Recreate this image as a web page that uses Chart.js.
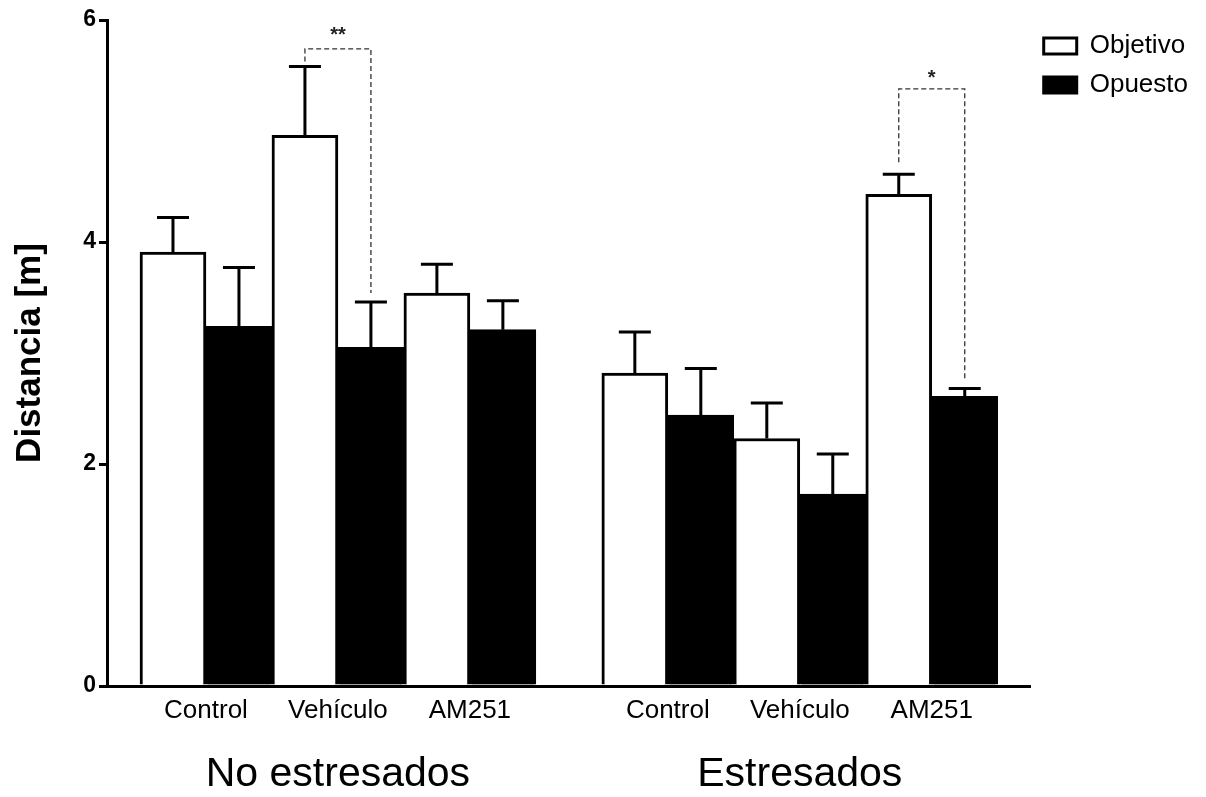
<!DOCTYPE html>
<html>
<head>
<meta charset="utf-8">
<script src="https://cdn.jsdelivr.net/npm/chart.js@4.4.1/dist/chart.umd.min.js"></script>
<style>
  html, body { margin: 0; padding: 0; background: #fff; }
  #wrap { width: 1206px; height: 797px; }
</style>
</head>
<body>
<div id="wrap"><canvas id="c" width="1206" height="797"></canvas></div>
<script>
// ---- data ----
const categories = ['Control', 'Vehículo', 'AM251'];
const groups = ['No estresados', 'Estresados'];
const seriesNames = ['Objetivo', 'Opuesto'];
const objetivo    = [3.91, 4.96, 3.54, 2.82, 2.23, 4.43];
const objetivoErr = [0.31, 0.62, 0.26, 0.37, 0.32, 0.18];
const opuesto     = [3.24, 3.05, 3.21, 2.44, 1.73, 2.61];
const opuestoErr  = [0.53, 0.41, 0.26, 0.42, 0.36, 0.07];
const yTicks = [0, 2, 4, 6];
const sigPairs = [1, 5];
const sigLabels = ['**', '*'];

// ---- layout helpers (bar slot units) ----
const FONT = "'Liberation Sans', Arial, Helvetica, sans-serif";
const SLOTS_PER_GROUP = 7;          // 6 bars + 1 gap slot
const X_MAX = groups.length * SLOTS_PER_GROUP;
const pairCenters = [];
const xLabels = [];
groups.forEach((g, gi) => categories.forEach((c, ci) => {
  pairCenters.push(gi * SLOTS_PER_GROUP + ci * 2 + 1.5);
  xLabels.push(c);
}));
const groupCenters = groups.map((g, gi) => gi * SLOTS_PER_GROUP + 3.5);

const errorBars = {
  id: 'errorBars',
  afterDatasetsDraw(chart) {
    const ctx = chart.ctx;
    const ys = chart.scales.y;
    const errs = [objetivoErr, opuestoErr];
    ctx.save();
    ctx.strokeStyle = '#000';
    ctx.lineWidth = 3;
    chart.data.datasets.forEach((ds, di) => {
      const meta = chart.getDatasetMeta(di);
      meta.data.forEach((el, i) => {
        const v = ds.data[i].y;
        const top = ys.getPixelForValue(v + errs[di][i]);
        ctx.beginPath();
        ctx.moveTo(el.x, el.y);
        ctx.lineTo(el.x, top);
        ctx.moveTo(el.x - 16, top);
        ctx.lineTo(el.x + 16, top);
        ctx.stroke();
      });
    });
    ctx.restore();
  }
};

const brackets = {
  id: 'brackets',
  afterDatasetsDraw(chart, args, opts) {
    const ctx = chart.ctx;
    const ys = chart.scales.y;
    const m0 = chart.getDatasetMeta(0), m1 = chart.getDatasetMeta(1);
    ctx.save();
    opts.items.forEach((it, k) => {
      const p = sigPairs[k];
      const a = m0.data[p], b = m1.data[p];
      const yBr = ys.getPixelForValue(it.level);
      const yL = ys.getPixelForValue(objetivo[p] + objetivoErr[p]) - it.gapL;
      const yR = ys.getPixelForValue(opuesto[p] + opuestoErr[p]) - it.gapR;
      ctx.strokeStyle = '#333';
      ctx.lineWidth = 1.3;
      ctx.setLineDash([5, 3]);
      ctx.beginPath();
      ctx.moveTo(a.x, yL);
      ctx.lineTo(a.x, yBr);
      ctx.lineTo(b.x, yBr);
      ctx.lineTo(b.x, yR);
      ctx.stroke();
      ctx.setLineDash([]);
      ctx.fillStyle = '#222';
      ctx.font = 'bold 20px ' + FONT;
      ctx.textAlign = 'center';
      ctx.textBaseline = 'alphabetic';
      ctx.fillText(sigLabels[k], (a.x + b.x) / 2, yBr - it.textGap);
    });
    ctx.restore();
  }
};

new Chart(document.getElementById('c'), {
  type: 'bar',
  data: {
    datasets: [
      {
        label: seriesNames[0],
        data: objetivo.map((v, i) => ({ x: pairCenters[i], y: v })),
        backgroundColor: '#fff',
        borderColor: '#000',
        borderWidth: 3
      },
      {
        label: seriesNames[1],
        data: opuesto.map((v, i) => ({ x: pairCenters[i], y: v })),
        backgroundColor: '#000',
        borderColor: '#000',
        borderWidth: 3
      }
    ]
  },
  options: {
    responsive: false,
    devicePixelRatio: 1,
    animation: false,
    grouped: true,
    categoryPercentage: 1,
    barPercentage: 1,
    layout: { padding: { top: 20, right: 8, bottom: 4, left: 0 } },
    plugins: {
      tooltip: { enabled: false },
      legend: {
        position: 'right',
        align: 'start',
        labels: {
          boxWidth: 33,
          boxHeight: 16,
          padding: 13,
          color: '#000',
          font: { family: FONT, size: 26 }
        }
      },
      brackets: {
        items: [
          { level: 5.74, gapL: 5, gapR: 9, textGap: 8 },
          { level: 5.38, gapL: 12, gapR: 8, textGap: 5 }
        ]
      }
    },
    scales: {
      x: {
        type: 'linear',
        min: 0,
        max: X_MAX,
        offset: false,
        weight: 0,
        grid: { display: false, drawTicks: false },
        border: { display: true, width: 3, color: '#000' },
        afterBuildTicks: s => { s.ticks = pairCenters.map(v => ({ value: v })); },
        afterFit: s => { s.height = 40; },
        ticks: {
          autoSkip: false, maxRotation: 0, minRotation: 0,
          padding: 12, color: '#000',
          font: { family: FONT, size: 26, lineHeight: 1 },
          callback: (v, i) => xLabels[i]
        }
      },
      x2: {
        type: 'linear',
        position: 'bottom',
        min: 0,
        max: X_MAX,
        offset: false,
        weight: 1,
        grid: { display: false, drawTicks: false },
        border: { display: false },
        afterBuildTicks: s => { s.ticks = groupCenters.map(v => ({ value: v })); },
        afterFit: s => { s.height = 67; },
        ticks: {
          autoSkip: false, maxRotation: 0, minRotation: 0,
          padding: 28, color: '#000',
          font: { family: FONT, size: 41, lineHeight: 1 },
          callback: (v, i) => groups[i]
        }
      },
      y: {
        min: 0,
        max: 6,
        afterBuildTicks: s => { s.ticks = yTicks.map(v => ({ value: v })); },
        afterFit: s => { s.width = 107; },
        grid: { drawOnChartArea: false, drawTicks: true, tickLength: 8, lineWidth: 3, color: '#000' },
        border: { display: true, width: 3, color: '#000' },
        ticks: { padding: 3, color: '#000', font: { family: FONT, size: 23, weight: 'bold' } },
        title: {
          display: true,
          text: 'Distancia [m]',
          color: '#000',
          padding: { top: 9, bottom: 0 },
          font: { family: FONT, size: 35, weight: 'bold', lineHeight: 1.2 }
        }
      }
    }
  },
  plugins: [errorBars, brackets]
});
</script>
</body>
</html>
